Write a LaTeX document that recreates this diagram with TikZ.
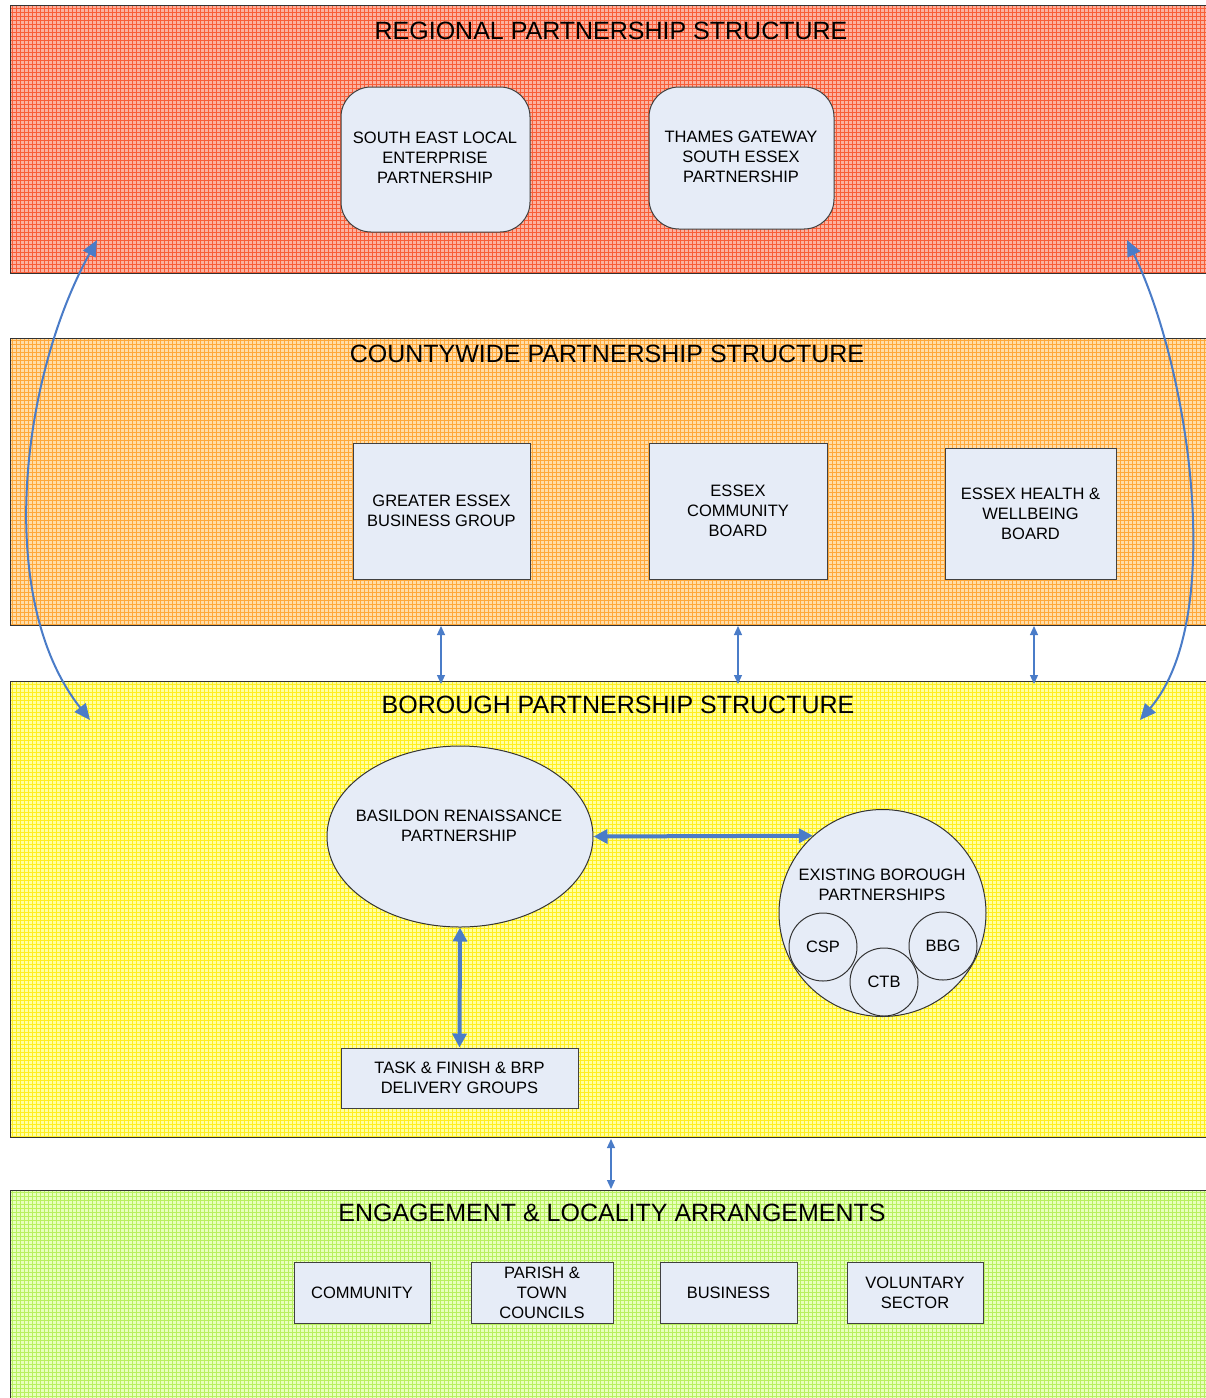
\documentclass[tikz,border=0pt]{standalone}
\usepackage{fontspec}
\setmainfont{Liberation Sans}
\usetikzlibrary{shapes.geometric,arrows.meta}
\definecolor{redbase}{HTML}{FBB2A0}
\definecolor{redgrid}{HTML}{F85E38}
\definecolor{orbase}{HTML}{FFDDA8}
\definecolor{orgrid}{HTML}{FFA83A}
\definecolor{yebase}{HTML}{FFFFA0}
\definecolor{yegrid}{HTML}{FFEE20}
\definecolor{grbase}{HTML}{E8FFBC}
\definecolor{grgrid}{HTML}{B8F060}
\definecolor{boxfill}{HTML}{E6ECF7}
\definecolor{arrblue}{HTML}{4A7CC8}
\tikzset{
  bandborder/.style={draw=black!80, line width=1pt},
  bandtitle/.style={font=\fontsize{25}{30}\selectfont, inner sep=0pt},
  boxtext/.style={font=\fontsize{16.5}{20}\selectfont, align=center, inner sep=0pt},
  sqbox/.style={draw=black!75, line width=1pt, fill=boxfill, boxtext},
  rbox/.style={sqbox, rounded corners=30pt},
  thinarrow/.style={arrblue, line width=1.2pt, {Triangle[length=9pt,width=8pt]}-{Triangle[length=9pt,width=8pt]}},
  thickarrow/.style={arrblue, line width=4pt, {Triangle[length=14pt,width=14pt]}-{Triangle[length=14pt,width=14pt]}},
  curvearrow/.style={arrblue, line width=2pt, {Triangle[length=16pt,width=14pt]}-{Triangle[length=16pt,width=14pt]}},
}
\newcommand{\band}[4]{%
  \begin{scope}
    \clip (10,#1) rectangle (1206,#2);
    \fill[#3] (10,#1) rectangle (1206,#2);
    \draw[#4, line width=0.7pt, step=4pt] (10,#1) grid (1206,#2);
  \end{scope}
  \draw[bandborder] (1210,#1) -- (10,#1) -- (10,#2) -- (1210,#2);
}
\begin{document}
\begin{tikzpicture}[x=1pt,y=-1pt]
\useasboundingbox (0,0) rectangle (1206,1398);
\fill[white] (0,0) rectangle (1206,1398);

% bands
\band{5}{273}{redbase}{redgrid}
\band{338}{625}{orbase}{orgrid}
\band{681}{1137}{yebase}{yegrid}
\begin{scope}
  \clip (10,1190) rectangle (1206,1400);
  \fill[grbase] (10,1190) rectangle (1206,1400);
  \draw[grgrid, line width=0.7pt, step=4pt] (10,1190) grid (1206,1400);
\end{scope}
\draw[bandborder] (1210,1190) -- (10,1190) -- (10,1400);

% titles
\node[bandtitle] (t1) at (611,31) {REGIONAL PARTNERSHIP STRUCTURE};
\node[bandtitle] (t2) at (607,354) {COUNTYWIDE PARTNERSHIP STRUCTURE};
\node[bandtitle] (t3) at (618,705) {BOROUGH PARTNERSHIP STRUCTURE};
\node[bandtitle] (t4) at (612,1213) {ENGAGEMENT \& LOCALITY ARRANGEMENTS};

% regional boxes
\node[rbox, minimum width=189pt, minimum height=145pt] (selep) at (435.5,159.5) {};
\node[boxtext] at (435,158) {SOUTH EAST LOCAL\\ENTERPRISE\\PARTNERSHIP};
\node[rbox, minimum width=185pt, minimum height=142pt] (tgsep) at (741.5,158) {};
\node[boxtext] at (741,157) {THAMES GATEWAY\\SOUTH ESSEX\\PARTNERSHIP};

% countywide boxes
\node[sqbox, minimum width=177pt, minimum height=136pt] (gebg) at (441.5,511) {GREATER ESSEX\\BUSINESS GROUP};
\node[sqbox, minimum width=178pt, minimum height=136pt] (ecb) at (738,511) {ESSEX\\COMMUNITY\\BOARD};
\node[sqbox, minimum width=171pt, minimum height=131pt] (ehwb) at (1030.5,513.5) {ESSEX HEALTH \&\\WELLBEING\\BOARD};

% band-to-band small arrows
\coordinate (a1t) at (441,626); \coordinate (a1b) at (441,684);
\coordinate (a2t) at (738,626); \coordinate (a2b) at (738,684);
\coordinate (a3t) at (1034,626); \coordinate (a3b) at (1034,684);
\draw[thinarrow] (a1t) -- (a1b);
\draw[thinarrow] (a2t) -- (a2b);
\draw[thinarrow] (a3t) -- (a3b);
\coordinate (a4t) at (611,1139); \coordinate (a4b) at (611,1189);
\draw[thinarrow] (a4t) -- (a4b);

% borough
\node[ellipse, draw=black!80, line width=1pt, fill=boxfill, minimum width=266pt, minimum height=181pt, inner sep=0pt] (brp) at (460,836.5) {};
\node[boxtext] at (459,826) {BASILDON RENAISSANCE\\PARTNERSHIP};
\node[circle, draw=black!80, line width=1pt, fill=boxfill, minimum size=207pt, inner sep=0pt] (ebp) at (882.5,913) {};
\node[boxtext] at (882,885) {EXISTING BOROUGH\\PARTNERSHIPS};
\node[circle, draw=black!80, line width=1pt, fill=boxfill, minimum size=68pt, inner sep=0pt, boxtext] (csp) at (823,947) {CSP};
\node[circle, draw=black!80, line width=1pt, fill=boxfill, minimum size=68pt, inner sep=0pt, boxtext] (bbg) at (943,946) {BBG};
\node[circle, draw=black!80, line width=1pt, fill=boxfill, minimum size=68pt, inner sep=0pt, boxtext] (ctb) at (884,982) {CTB};

\node[sqbox, minimum width=237pt, minimum height=60pt] (task) at (459.5,1078) {TASK \& FINISH \& BRP\\DELIVERY GROUPS};

\draw[thickarrow] (brp.east) -- (ebp.132);
\draw[thickarrow] (brp.south) -- (task.north);

% engagement boxes
\node[sqbox, minimum width=136pt, minimum height=61pt] (comm) at (362,1292.5) {COMMUNITY};
\node[sqbox, minimum width=142pt, minimum height=61pt] (parish) at (542,1292.5) {PARISH \&\\TOWN\\COUNCILS};
\node[sqbox, minimum width=137pt, minimum height=61pt] (bus) at (728.5,1292.5) {BUSINESS};
\node[sqbox, minimum width=136pt, minimum height=61pt] (vol) at (915,1292.5) {VOLUNTARY\\SECTOR};

% large curved arrows
\coordinate (lt) at (97,240); \coordinate (lb) at (90,720);
\coordinate (rt) at (1127,240); \coordinate (rb) at (1140,720);
\draw[curvearrow] (lt) .. controls (20,380) and (-5,600) .. (lb);
\draw[curvearrow] (rt) .. controls (1190,370) and (1226,620) .. (rb);
\end{tikzpicture}
\end{document}
